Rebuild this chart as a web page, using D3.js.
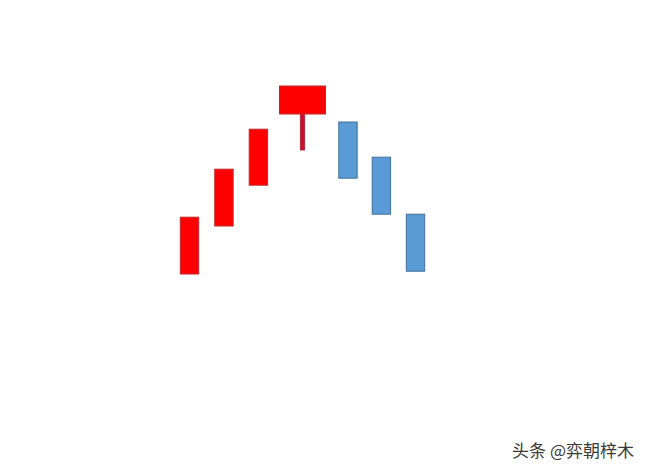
<!DOCTYPE html>
<html>
<head>
<meta charset="utf-8">
<script src="https://d3js.org/d3.v7.min.js"></script>
<style>
  html, body { margin: 0; padding: 0; background: #fff; }
  svg { display: block; }
</style>
</head>
<body>
<svg width="648" height="472"></svg>
<script>
// candle positions (slot index) and prices
const slots  = [0, 1, 2, 3.28, 4.6, 5.57, 6.56];
const opens  = [13, 37, 57.4, 93, 89, 71.4, 42.9];
const closes = [41.4, 65.4, 85.4, 107, 60.9, 42.9, 14.4];
const lows   = [13, 37, 57.4, 75, 60.9, 42.9, 14.4];
const widths = [1, 1, 1, 2.5, 1, 1, 1]; // body width relative to a normal candle

const svg = d3.select('svg');
const x = d3.scaleLinear().domain([0, 6.56]).range([189.5, 415.5]);
const y = d3.scaleLinear().domain([0, 150]).range([300, 0]);
const bodyW = 18.4;

const candles = slots.map((s, i) => ({
  s, open: opens[i], close: closes[i], low: lows[i], w: widths[i] * bodyW
}));

const g = svg.append('g');

// lower shadow (only where low is below the body)
g.selectAll('rect.wick')
  .data(candles.filter(d => d.low < Math.min(d.open, d.close)))
  .enter().append('rect')
  .attr('class', 'wick')
  .attr('x', d => x(d.s) - 2.2)
  .attr('width', 4.4)
  .attr('y', d => y(Math.min(d.open, d.close)))
  .attr('height', d => y(d.low) - y(Math.min(d.open, d.close)))
  .attr('fill', '#c8102e')
  .attr('stroke', '#a8202e')
  .attr('stroke-width', 0.8);

g.selectAll('rect.body')
  .data(candles)
  .enter().append('rect')
  .attr('class', 'body')
  .attr('x', d => x(d.s) - d.w / 2)
  .attr('width', d => d.w)
  .attr('y', d => y(Math.max(d.open, d.close)))
  .attr('height', d => Math.abs(y(d.open) - y(d.close)))
  .attr('fill', d => d.close > d.open ? '#ff0000' : '#5b9bd5')
  .attr('stroke', d => d.close > d.open ? '#c0282e' : '#41719c')
  .attr('stroke-width', 1);

svg.append('text')
  .attr('x', 634)
  .attr('y', 457)
  .attr('text-anchor', 'end')
  .attr('font-family', '"Noto Sans CJK SC", sans-serif')
  .attr('font-size', 17)
  .attr('fill', '#3a3a3a')
  .attr('stroke', '#fff')
  .attr('stroke-width', 2.5)
  .attr('paint-order', 'stroke')
  .text('头条 @弈朝梓木');
</script>
</body>
</html>
